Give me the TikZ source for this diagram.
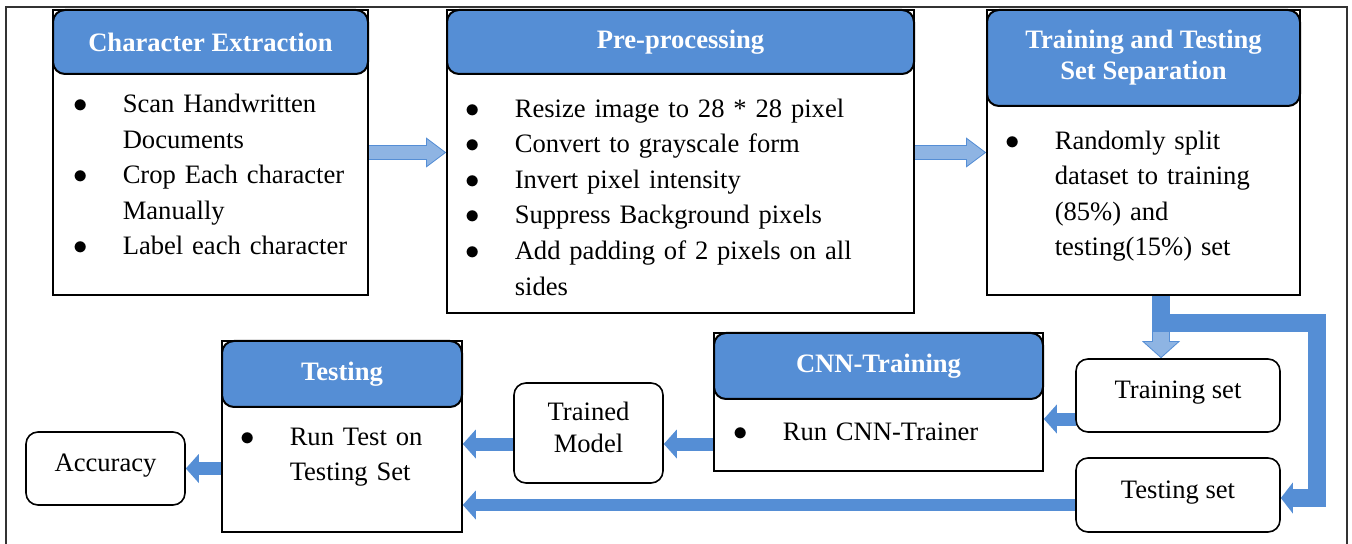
\documentclass[tikz,border=0pt]{standalone}
\usepackage{fontspec}
\setmainfont{Liberation Serif}
\usepackage{enumitem}
\usetikzlibrary{arrows.meta,fit,backgrounds}

\definecolor{headblue}{HTML}{558ED5}
\definecolor{lightblue}{HTML}{8EB4E3}

\setlist[itemize]{nosep,label=$\bullet$,align=left,leftmargin=24.5pt,labelwidth=24.5pt,labelsep=0pt}

\begin{document}
\begin{tikzpicture}[x=0.5pt,y=-0.5pt]
        % one unit is one pixel of the layout, y runs downwards
        \tikzset{
          stage/.style={draw,line width=0.8pt,inner sep=0pt},
          head/.style={draw,fill=headblue,line width=1pt,rounded corners=6pt,inner sep=0pt,
            text=white,align=center,font=\fontsize{13.3}{15.5}\selectfont\bfseries},
          steps/.style={inner sep=0pt,anchor=base west,align=left,font=\fontsize{13.3}{17.8}\selectfont},
          setbox/.style={draw,line width=0.8pt,rounded corners=6pt,inner sep=0pt,align=center,
            text depth=5.5pt,font=\fontsize{13.3}{16}\selectfont},
          darrow/.style={draw=headblue,line width=6.5pt,-{Triangle[length=6.5pt,width=14.5pt,line width=0pt]}},
          lightarrow/.style={draw=headblue,line width=7.5pt,-{Triangle[length=10pt,width=15pt,line width=0pt]},
            postaction={draw=lightblue,line width=6.5pt,shorten >=0.83pt,
              -{Triangle[length=8.67pt,width=13pt,line width=0pt]}}},
          droparrow/.style={draw=headblue,line width=9pt,-{Triangle[length=8.5pt,width=19pt,line width=0pt]},
            postaction={draw=lightblue,line width=8pt,shorten >=0.67pt,
              -{Triangle[length=7.33pt,width=16.4pt,line width=0pt]}}}
        }

        \useasboundingbox (0,0) rectangle (1352,544);

        % top row
        \node[stage,fit={(53,10) (368,295)}] (extract) {};
        \node[head,minimum width=157.5pt,minimum height=32pt] (extracthead) at (210.5,42) {Character Extraction};
        \node[steps,text width=140pt] (extractlist) at (73.35,77) {%
          \begin{itemize}
            \item Scan Handwritten\\ Documents
            \item Crop Each character\\ Manually
            \item Label each character
          \end{itemize}};

        \node[stage,fit={(447,10) (914,313)}] (prep) {};
        \node[head,minimum width=233.5pt,minimum height=32pt] (prephead) at (680.5,42) {Pre-processing};
        \node[steps,text width=210pt] (preplist) at (465.35,81.5) {%
          \begin{itemize}
            \item Resize image to 28 * 28 pixel
            \item Convert to grayscale form
            \item Invert pixel intensity
            \item Suppress Background pixels
            \item Add padding of 2 pixels on all\\ sides
          \end{itemize}};

        \node[stage,fit={(987,10) (1300,295)}] (sep) {};
        \node[head,minimum width=156.5pt,minimum height=48pt] (sephead) at (1143.5,58) {Training and Testing\\Set Separation};
        \node[steps,text width=140pt] (seplist) at (1005.35,113.5) {%
          \begin{itemize}
            \item Randomly split\\ dataset to training\\ (85\%) and\\ testing(15\%) set
          \end{itemize}};

        % bottom row
        \node[stage,fit={(714,333) (1043,471)}] (cnn) {};
        \node[head,minimum width=164.5pt,minimum height=33pt] (cnnhead) at (878.5,366) {CNN-Training};
        \node[steps,text width=140pt] (cnnlist) at (733.35,404.5) {%
          \begin{itemize}
            \item Run CNN-Trainer
          \end{itemize}};

        \node[stage,fit={(222,341) (462,532)}] (testing) {};
        \node[head,minimum width=120pt,minimum height=33pt] (testinghead) at (342,374) {Testing};
        \node[steps,text width=105pt] (testinglist) at (240.35,409.5) {%
          \begin{itemize}
            \item Run Test on\\ Testing Set
          \end{itemize}};

        \node[setbox,minimum width=102pt,minimum height=36.5pt] (trainset) at (1178,395.5) {Training set};
        \node[setbox,minimum width=102pt,minimum height=37pt] (testset) at (1178,495) {Testing set};
        \node[setbox,minimum width=74.5pt,minimum height=50pt] (model) at (588.5,433) {Trained\\Model};
        \node[setbox,minimum width=79.5pt,minimum height=36.5pt] (accuracy) at (105.5,468.5) {Accuracy};

        \coordinate (split) at (1161,295);
        \coordinate (bend) at (1317,323);
        \coordinate (trainout) at (1076,419);
        \coordinate (cnnout) at (714,444);
        \coordinate (testout) at (1076,505);

        \begin{scope}[on background layer]
          \draw[line width=0.6pt,black!80] (6,545) -- (6,7) -- (1347,7) -- (1347,545);

          \draw[lightarrow] (extract.east) -- (extract.east -| prep.west);
          \draw[lightarrow] (extract.east -| prep.east) -- (extract.east -| sep.west);

          \draw[droparrow] (split) -- (split |- trainset.north);
          \draw[darrow,line width=9pt,-{Triangle[length=6pt,width=15.5pt,line width=0pt]}]
            (split) |- (bend) |- ([yshift=-1.5pt]testset.east);

          \draw[darrow] (trainout) -- (trainout -| cnn.east);
          \draw[darrow] (cnnout) -- (cnnout -| model.east);
          \draw[darrow] (cnnout -| model.west) -- (cnnout -| testing.east);
          \draw[darrow,line width=6pt] (testout) -- (testout -| testing.east);
          \draw[darrow] (testing.west |- accuracy.east) -- (accuracy.east);
        \end{scope}

    \end{tikzpicture}
\end{document}
